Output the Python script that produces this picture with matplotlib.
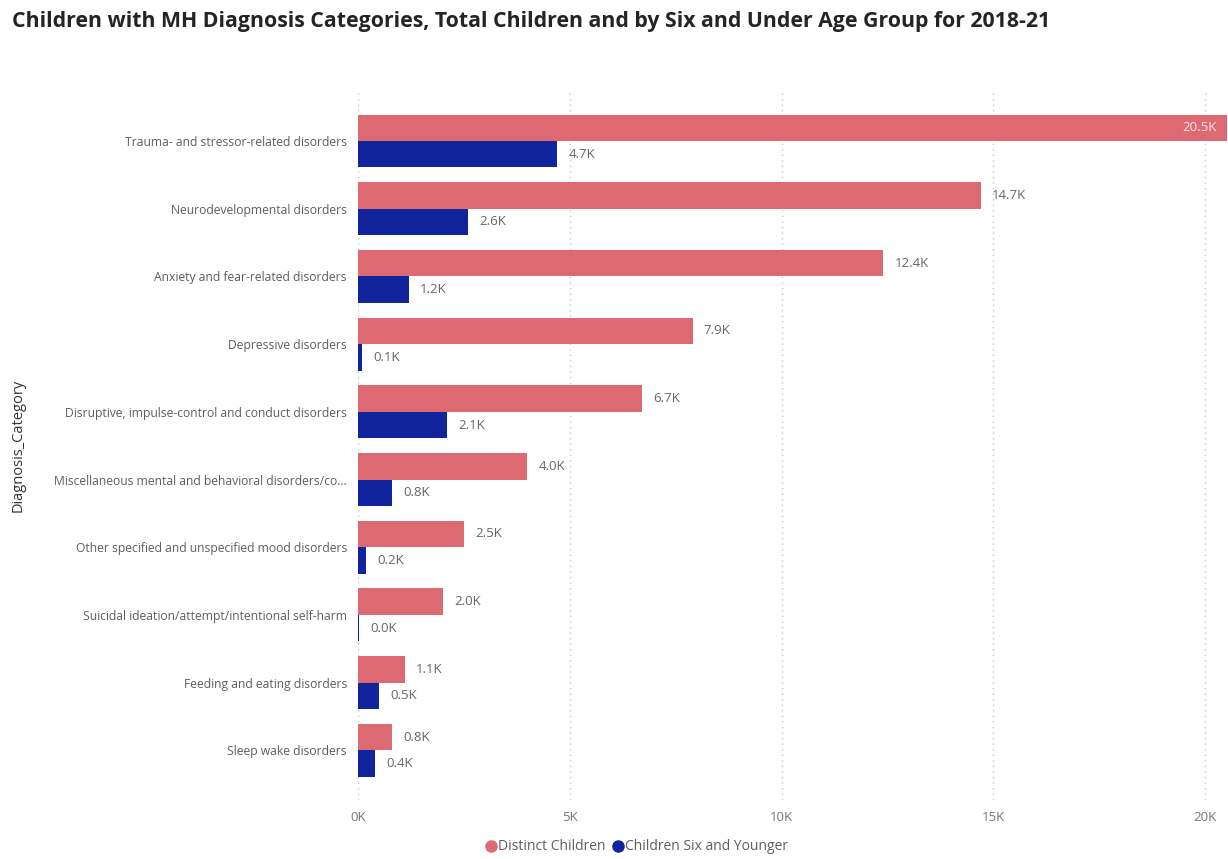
import matplotlib
matplotlib.use("Agg")
import matplotlib.pyplot as plt
from matplotlib.lines import Line2D
import numpy as np

# Diagnosis categories (top to bottom) and counts in thousands
categories = [
    "Trauma- and stressor-related disorders",
    "Neurodevelopmental disorders",
    "Anxiety and fear-related disorders",
    "Depressive disorders",
    "Disruptive, impulse-control and conduct disorders",
    "Miscellaneous mental and behavioral disorders/co...",
    "Other specified and unspecified mood disorders",
    "Suicidal ideation/attempt/intentional self-harm",
    "Feeding and eating disorders",
    "Sleep wake disorders",
]
distinct_children = [20.5, 14.7, 12.4, 7.9, 6.7, 4.0, 2.5, 2.0, 1.1, 0.8]
six_and_younger = [4.7, 2.6, 1.2, 0.1, 2.1, 0.8, 0.2, 0.02, 0.5, 0.4]
x_ticks = [0, 5, 10, 15, 20]
x_tick_labels = ["0K", "5K", "10K", "15K", "20K"]
series_names = ["Distinct Children", "Children Six and Younger"]

PINK = "#DD6A72"
BLUE = "#12239E"
FONT = ["Open Sans", "DejaVu Sans"]
plt.rcParams["font.family"] = FONT

W, H = 1228, 859
fig = plt.figure(figsize=(W / 100, H / 100), dpi=100)

# axes placement in pixels
left_px, right_px, top_px, bottom_px = 358, 1226.5, 90, 800
ax = fig.add_axes([left_px / W, 1 - bottom_px / H,
                   (right_px - left_px) / W, (bottom_px - top_px) / H])

step_px = 67.7
first_center_px = 141
y_top = -(first_center_px - top_px) / step_px
y_bot = y_top + (bottom_px - top_px) / step_px

y = np.arange(len(categories))
bh = 0.39
ax.barh(y - bh / 2, distinct_children, height=bh, color=PINK)
ax.barh(y + bh / 2, six_and_younger, height=bh, color=BLUE)

ax.set_xlim(0, 20.5)
ax.set_ylim(y_bot, y_top)

# value labels
xmax = 20.5
for i, v in enumerate(distinct_children):
    txt = f"{v:.1f}K"
    if v > 0.93 * xmax:
        ax.annotate(txt, (v, i - bh / 2), xytext=(-7, 0), textcoords="offset points",
                    ha="right", va="center", fontsize=9.5, color="#FBE3E5")
    else:
        ax.annotate(txt, (v, i - bh / 2), xytext=(8, 0), textcoords="offset points",
                    ha="left", va="center", fontsize=9.5, color="#666666")
for i, v in enumerate(six_and_younger):
    ax.annotate(f"{v:.1f}K", (v, i + bh / 2), xytext=(8, 0), textcoords="offset points",
                ha="left", va="center", fontsize=9.5, color="#666666")

ax.set_yticks(y)
ax.set_yticklabels(categories, fontsize=8.7, color="#605E5C")
ax.set_xticks(x_ticks)
ax.set_xticklabels(x_tick_labels, fontsize=9.5, color="#777777")
ax.tick_params(axis="both", length=0)
ax.tick_params(axis="y", pad=8)
ax.tick_params(axis="x", pad=8)

for s in ax.spines.values():
    s.set_visible(False)
ax.grid(axis="x", color="#C8C8C8", linestyle=(0, (1, 3)), linewidth=1)
ax.set_axisbelow(True)

fig.text(18 / W, 1 - 445 / H, "Diagnosis_Category", rotation=90, ha="center",
         va="center", fontsize=10.5, color="#333333")

fig.text(12 / W, 1 - 21 / H,
         "Children with MH Diagnosis Categories, Total Children and by Six and Under Age Group for 2018-21",
         ha="left", va="center", fontsize=15.3, fontweight="bold", color="#252423")

handles = [Line2D([], [], marker="o", linestyle="", markersize=8, color=PINK),
           Line2D([], [], marker="o", linestyle="", markersize=8, color=BLUE)]
leg = fig.legend(handles, series_names, loc="center", bbox_to_anchor=(636 / W, 1 - 847 / H),
                 ncol=2, frameon=False, fontsize=10, handletextpad=0.0,
                 columnspacing=0.4, handlelength=1.0, borderaxespad=0)
for t in leg.get_texts():
    t.set_color("#605E5C")

fig.savefig("out.png", dpi=100)
